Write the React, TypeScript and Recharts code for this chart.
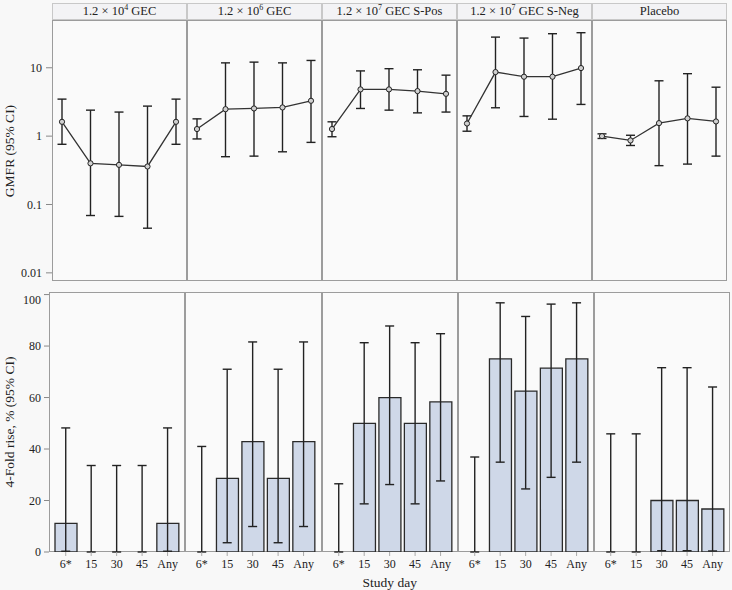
import { ComposedChart, LineChart, Line, Bar, XAxis, YAxis, ErrorBar } from "recharts";

const days = ["6*", "15", "30", "45", "Any"];
const groupNames = ["1.2 × 10", "1.2 × 10", "1.2 × 10", "1.2 × 10", "Placebo"];
const groupExps = ["4", "6", "7", "7", ""];
const groupSuffix = [" GEC", " GEC", " GEC S-Pos", " GEC S-Neg", ""];

// GMFR point estimates and 95% CI, one row per group
const gmfrMid = [
  [1.62, 0.4, 0.38, 0.36, 1.62],
  [1.27, 2.48, 2.54, 2.63, 3.29],
  [1.27, 4.83, 4.83, 4.56, 4.16],
  [1.53, 8.65, 7.4, 7.4, 9.9],
  [1.0, 0.865, 1.55, 1.82, 1.64],
];
const gmfrLow = [
  [0.76, 0.069, 0.067, 0.045, 0.76],
  [0.91, 0.5, 0.51, 0.59, 0.81],
  [0.98, 2.54, 2.4, 2.19, 2.25],
  [1.18, 2.6, 1.94, 1.77, 2.91],
  [0.925, 0.73, 0.37, 0.39, 0.51],
];
const gmfrHigh = [
  [3.48, 2.4, 2.25, 2.75, 3.48],
  [1.79, 11.8, 12.1, 11.8, 12.8],
  [1.62, 9.0, 9.7, 9.35, 7.8],
  [1.98, 28.1, 27.2, 31.5, 32.6],
  [1.08, 1.03, 6.45, 8.2, 5.2],
];

// 4-fold rise %, with 95% CI
const pctMid = [
  [11.1, 0, 0, 0, 11.1],
  [0, 28.6, 42.9, 28.6, 42.9],
  [0, 50, 60, 50, 58.3],
  [0, 75, 62.5, 71.4, 75],
  [0, 0, 20, 20, 16.7],
];
const pctLow = [
  [0.3, 0, 0, 0, 0.3],
  [0, 3.6, 9.9, 3.6, 9.9],
  [0, 18.7, 26.2, 18.7, 27.6],
  [0, 34.9, 24.5, 29.0, 34.9],
  [0, 0, 0.5, 0.5, 0.4],
];
const pctHigh = [
  [48.2, 33.6, 33.6, 33.6, 48.2],
  [41.0, 71.0, 81.6, 71.0, 81.6],
  [26.5, 81.3, 87.8, 81.3, 84.8],
  [36.9, 96.8, 91.5, 96.3, 96.8],
  [45.9, 45.9, 71.6, 71.6, 64.1],
];

const gmfrTicks = [0.01, 0.1, 1, 10];
const pctTicks = [0, 20, 40, 60, 80, 100];

const FONT = "Liberation Serif";
const TOP_Y = 20;
const TOP_H = 261;
const TOP_LEFT = 52;
const TOP_W = 135;
const BOT_Y = 292;
const BOT_H = 260;
const BOT_LEFT = 49;
const BOT_W = 136.3;

const tickStyle = { fill: "#222", fontSize: 12, fontFamily: FONT };

function TopPanel({ i }: { i: number }) {
  const data = days.map((d, j) => ({
    day: d,
    value: gmfrMid[i][j],
    err: [gmfrMid[i][j] - gmfrLow[i][j], gmfrHigh[i][j] - gmfrMid[i][j]],
  }));
  const first = i === 0;
  const left = first ? 0 : TOP_LEFT + i * TOP_W;
  const width = first ? TOP_LEFT + TOP_W : TOP_W;
  return (
    <div style={{ position: "absolute", left, top: TOP_Y }}>
      <LineChart width={width} height={TOP_H + 10} data={data} margin={{ top: 0, right: 0, bottom: 0, left: 0 }}>
        <XAxis
          dataKey="day"
          scale="point"
          padding={{ left: 10, right: 11 }}
          tick={false}
          tickLine={{ stroke: "#888" }}
          tickSize={8}
          axisLine={false}
          height={10}
        />
        <YAxis
          hide={!first}
          scale="log"
          domain={[0.0076, 50]}
          allowDataOverflow
          ticks={gmfrTicks}
          width={TOP_LEFT}
          tick={tickStyle}
          tickSize={6}
          tickMargin={4}
          tickLine={{ stroke: "#888" }}
          axisLine={false}
        />
        <Line
          dataKey="value"
          stroke="#333"
          strokeWidth={1.3}
          dot={{ r: 2.6, fill: "#d0d0d0", stroke: "#222", strokeWidth: 1 }}
          isAnimationActive={false}
        >
          <ErrorBar dataKey="err" direction="y" width={4.5} stroke="#222" strokeWidth={1.4} />
        </Line>
      </LineChart>
    </div>
  );
}

function BottomPanel({ i }: { i: number }) {
  const data = days.map((d, j) => ({
    day: d,
    value: pctMid[i][j],
    err: [pctMid[i][j] - pctLow[i][j], pctHigh[i][j] - pctMid[i][j]],
  }));
  const first = i === 0;
  const left = first ? 0 : BOT_LEFT + i * BOT_W;
  const width = first ? BOT_LEFT + BOT_W : BOT_W;
  return (
    <div style={{ position: "absolute", left, top: BOT_Y }}>
      <ComposedChart
        width={width}
        height={BOT_H + 24}
        data={data}
        margin={{ top: 0, right: 0, bottom: 0, left: 0 }}
        barSize={22}
      >
        <XAxis
          dataKey="day"
          padding={{ left: 4, right: 5 }}
          tick={tickStyle}
          tickLine={{ stroke: "#aaa" }}
          tickSize={4}
          tickMargin={3}
          axisLine={false}
          height={24}
          interval={0}
        />
        <YAxis
          hide={!first}
          domain={[0, 101]}
          allowDataOverflow
          ticks={pctTicks}
          width={BOT_LEFT}
          tick={tickStyle}
          tickSize={5}
          tickMargin={3}
          tickLine={{ stroke: "#888" }}
          axisLine={false}
        />
        <Bar dataKey="value" fill="#cfd8e8" stroke="#2a2a2a" strokeWidth={1.3} isAnimationActive={false} />
        {/* invisible line only carries the CI whiskers, so zero-height bars still get them */}
        <Line
          dataKey="value"
          stroke="none"
          dot={false}
          activeDot={false}
          legendType="none"
          isAnimationActive={false}
        >
          <ErrorBar dataKey="err" direction="y" width={4.5} stroke="#222" strokeWidth={1.4} />
        </Line>
      </ComposedChart>
    </div>
  );
}

export default function App() {
  const idx = [0, 1, 2, 3, 4];
  return (
    <div
      style={{
        position: "absolute",
        left: 0,
        top: 0,
        width: 732,
        height: 590,
        background: "#f8f8f8",
        fontFamily: FONT,
        color: "#222",
        overflow: "hidden",
      }}
    >
      {idx.map((i) => (
        <div
          key={"h" + i}
          style={{
            position: "absolute",
            left: TOP_LEFT + i * TOP_W,
            top: 3,
            width: TOP_W,
            height: 17,
            boxSizing: "border-box",
            border: "1px solid #c8c8c8",
            background: "#f3f3f5",
            fontSize: 12.5,
            lineHeight: "15px",
            textAlign: "center",
            whiteSpace: "nowrap",
          }}
        >
          {groupNames[i]}
          {groupExps[i] && <sup style={{ fontSize: 8, lineHeight: 0 }}>{groupExps[i]}</sup>}
          {groupSuffix[i]}
        </div>
      ))}
      {idx.map((i) => (
        <div
          key={"ft" + i}
          style={{
            position: "absolute",
            left: TOP_LEFT + i * TOP_W,
            top: TOP_Y,
            width: TOP_W,
            height: TOP_H,
            boxSizing: "border-box",
            border: "1px solid #9c9c9c",
            background: "#fafafa",
          }}
        />
      ))}
      {idx.map((i) => (
        <div
          key={"fb" + i}
          style={{
            position: "absolute",
            left: BOT_LEFT + i * BOT_W,
            top: BOT_Y,
            width: BOT_W,
            height: BOT_H,
            boxSizing: "border-box",
            border: "1px solid #9c9c9c",
            background: "#fafafa",
          }}
        />
      ))}
      {idx.map((i) => (
        <TopPanel key={"t" + i} i={i} />
      ))}
      {idx.map((i) => (
        <BottomPanel key={"b" + i} i={i} />
      ))}
      <div
        style={{
          position: "absolute",
          left: 10,
          top: TOP_Y + TOP_H / 2,
          transform: "translate(-50%, -50%) rotate(-90deg)",
          fontSize: 13.5,
          whiteSpace: "nowrap",
        }}
      >
        GMFR (95% CI)
      </div>
      <div
        style={{
          position: "absolute",
          left: 10,
          top: BOT_Y + BOT_H / 2,
          transform: "translate(-50%, -50%) rotate(-90deg)",
          fontSize: 13.5,
          whiteSpace: "nowrap",
        }}
      >
        4-Fold rise, % (95% CI)
      </div>
      <div
        style={{
          position: "absolute",
          left: BOT_LEFT + (5 * BOT_W) / 2,
          top: 583,
          transform: "translate(-50%, -50%)",
          fontSize: 13.5,
          whiteSpace: "nowrap",
        }}
      >
        Study day
      </div>
    </div>
  );
}
